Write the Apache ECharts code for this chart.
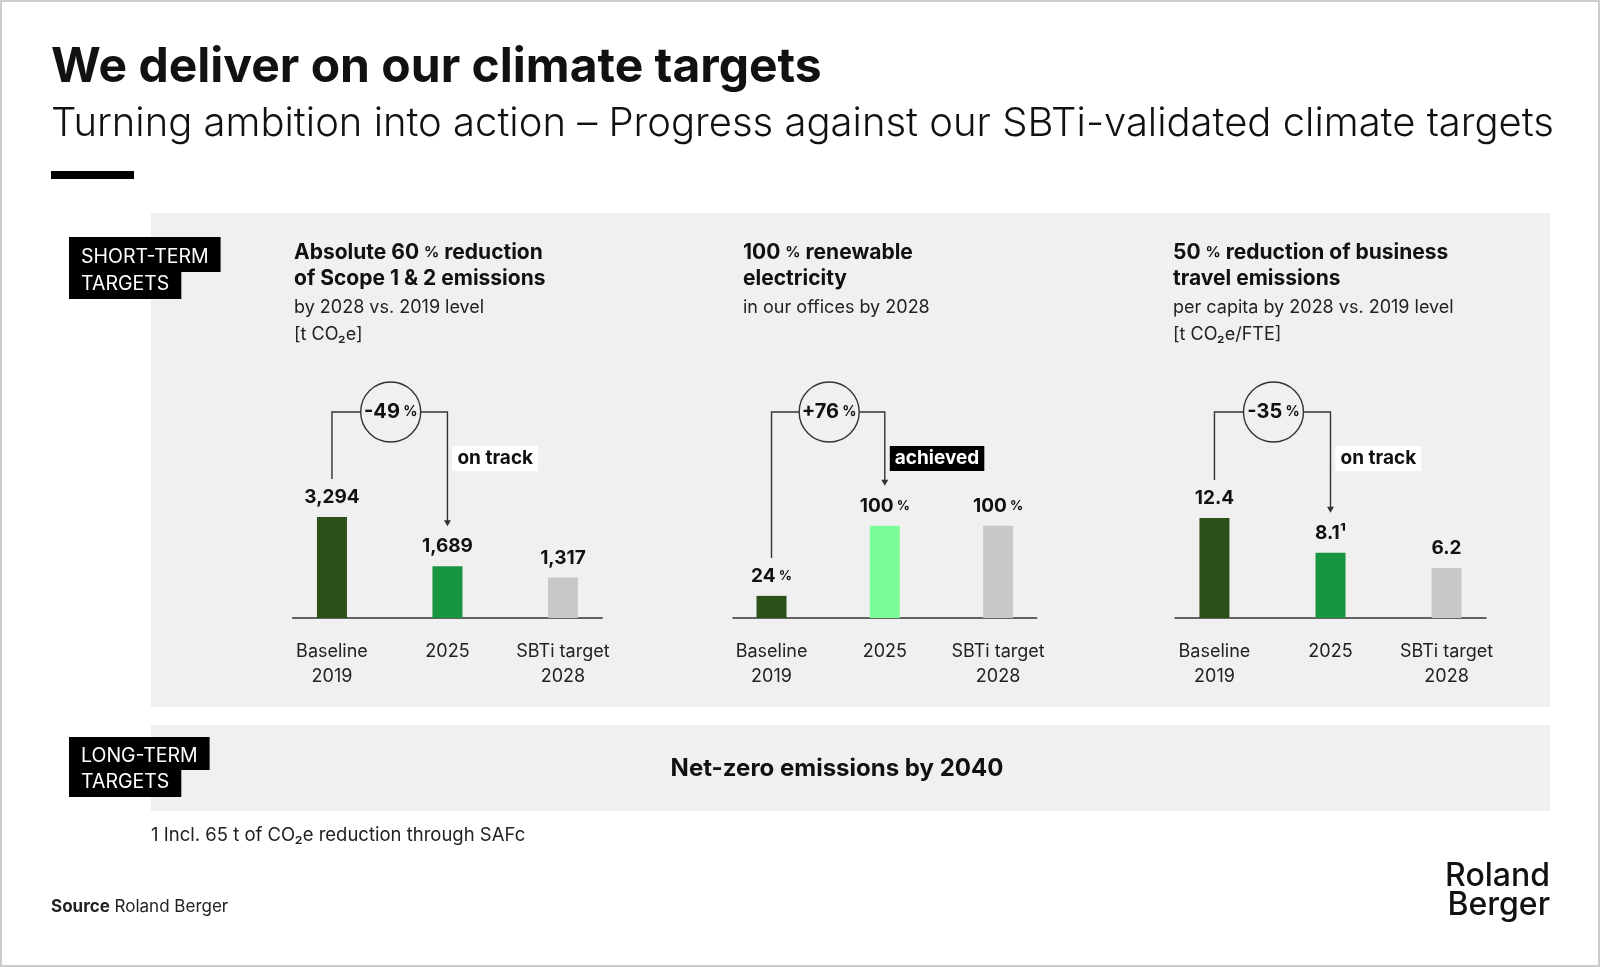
<!DOCTYPE html>
<html><head><meta charset="utf-8">
<script src="https://cdn.jsdelivr.net/npm/echarts@6/dist/echarts.min.js"></script>
<style>html,body{margin:0;padding:0;background:#fff}#c{width:1600px;height:967px}</style>
</head><body><div id="c"></div>
<script>
// ---------- data ----------
const categories = ['Baseline\n2019', '2025', 'SBTi target\n2028'];
const scopeValues = [3294, 1689, 1317];
const renewableValues = [24, 100, 100];
const travelValues = [12.4, 8.1, 6.2];
const scopeLabels = ['3,294', '1,689', '1,317'];
const renewableLabels = ['24{p| %}', '100{p| %}', '100{p| %}'];
const travelLabels = ['12.4', '8.1¹', '6.2'];
const changeLabels = ['-49', '+76', '-35'];
const statusLabels = ['on track', 'achieved', 'on track'];
const panelTitles = [
  ['Absolute 60 {p|%} reduction', 'of Scope 1 & 2 emissions'],
  ['100 {p|%} renewable', 'electricity'],
  ['50 {p|%} reduction of business', 'travel emissions']
];
const panelSubs = [
  ['by 2028 vs. 2019 level', '[t CO₂e]'],
  ['in our offices by 2028'],
  ['per capita by 2028 vs. 2019 level', '[t CO₂e/FTE]']
];
const titleText = 'We deliver on our climate targets';
const subtitleText = 'Turning ambition into action – Progress against our SBTi-validated climate targets';
const longTermText = 'Net-zero emissions by 2040';
const footnoteText = '1 Incl. 65 t of CO₂e reduction through SAFc';

// ---------- layout / style ----------
const FONT = 'Inter, "Noto Sans", sans-serif';
const INK = '#111111';
const panelValues = [scopeValues, renewableValues, travelValues];
const panelLabels = [scopeLabels, renewableLabels, travelLabels];
const layout = [
  {left: 292.7, width: 309.5, max: 6520, colors: ['#2c5118', '#17963f', '#c8c8c8'], textX: 294, statusBg: '#ffffff', statusFg: INK},
  {left: 733, width: 303.6, max: 217, colors: ['#2c5118', '#7dfd9a', '#c8c8c8'], textX: 743, statusBg: '#000000', statusFg: '#ffffff'},
  {left: 1175, width: 311, max: 24.8, colors: ['#2c5118', '#17963f', '#c8c8c8'], textX: 1173, statusBg: '#ffffff', statusFg: INK}
];
const GRID_TOP = 418, GRID_H = 200;

const chart = echarts.init(document.getElementById('c'), null, {renderer: 'canvas', width: 1600, height: 967});

const pctRich = (fs, weight) => ({p: {fontSize: fs, fontWeight: weight, fontFamily: FONT, color: INK, fill: INK}});

chart.setOption({
  animation: false,
  backgroundColor: '#ffffff',
  grid: layout.map(l => ({left: l.left, width: l.width, top: GRID_TOP, height: GRID_H})),
  xAxis: layout.map((l, i) => ({
    type: 'value', gridIndex: i, min: -0.34, max: 2.34,
    axisLine: {show: true, onZero: false, lineStyle: {color: '#333333', width: 1.5}},
    axisTick: {show: false}, splitLine: {show: false},
    axisLabel: {
      customValues: [0, 1, 2],
      formatter: v => categories[Math.round(v)],
      fontFamily: FONT, fontSize: 18, color: '#222222', lineHeight: 25, margin: 21
    }
  })),
  yAxis: layout.map((l, i) => ({type: 'value', gridIndex: i, min: 0, max: l.max, show: false})),
  series: layout.map((l, i) => ({
    type: 'bar', xAxisIndex: i, yAxisIndex: i, barWidth: 30, silent: true,
    data: panelValues[i].map((v, k) => ({
      value: [k, v],
      itemStyle: {color: l.colors[k]},
      label: {formatter: panelLabels[i][k]}
    })),
    label: {
      show: true, position: 'top', distance: 10,
      fontFamily: FONT, fontWeight: 'bold', fontSize: 19, color: INK,
      rich: {p: {fontFamily: FONT, fontWeight: 'bold', fontSize: 13, color: INK}}
    }
  }))
});

// ---------- static decoration ----------
function T(x, base, text, fs, weight, extra) {
  return {type: 'text', z: 50, silent: true, style: Object.assign({
    x: x, y: base - 0.363 * fs, text: text, fontSize: fs, fontWeight: weight,
    fontFamily: FONT, fill: INK, align: 'left', verticalAlign: 'middle'
  }, extra || {})};
}
function tag(x, y, text, pad) {
  return {type: 'text', z: 50, silent: true, style: {
    x: x, y: y, text: text, fontSize: 19.5, fontWeight: 'normal', fontFamily: FONT,
    fill: '#ffffff', backgroundColor: '#000000', padding: pad, lineHeight: 22,
    align: 'left', verticalAlign: 'top'
  }};
}

const g = [];
g.push({type: 'rect', z: -20, silent: true, shape: {x: 1, y: 1, width: 1598, height: 965}, style: {fill: '#ffffff', stroke: '#cccccc', lineWidth: 2}});
g.push({type: 'rect', z: -10, silent: true, shape: {x: 151, y: 213, width: 1399, height: 494}, style: {fill: '#f0f0f0'}});
g.push({type: 'rect', z: -10, silent: true, shape: {x: 151, y: 725, width: 1399, height: 86}, style: {fill: '#f0f0f0'}});
g.push({type: 'rect', z: 50, silent: true, shape: {x: 51, y: 171, width: 83, height: 8}, style: {fill: '#000000'}});
g.push(T(51, 85, titleText, 48, 'bold'));
g.push(T(51, 138, subtitleText, 40, 300));
g.push(tag(69, 237, 'SHORT-TERM', [9, 12, 4, 12]));
g.push(tag(69, 272, 'TARGETS', [1, 12, 4, 12]));
g.push(tag(69, 737, 'LONG-TERM', [8, 12, 3, 12]));
g.push(tag(69, 770, 'TARGETS', [1, 12, 4, 12]));
g.push(T(837, 777, longTermText, 24, 'bold', {align: 'center'}));
g.push(T(151, 842, footnoteText, 18.5, 'normal', {fill: '#222222'}));
g.push(T(51, 913, '{b|Source} Roland Berger', 17, 'normal', {fill: '#222222', rich: {b: {fontFamily: FONT, fontWeight: 'bold', fontSize: 17, fill: '#222222'}}}));
g.push(T(1550, 888, 'Roland', 32, 500, {align: 'right'}));
g.push(T(1550, 917, 'Berger', 32, 500, {align: 'right'}));

layout.forEach((l, i) => {
  panelTitles[i].forEach((t, k) => g.push(T(l.textX, 260 + 26 * k, t, 21, 'bold', {rich: pctRich(15, 'bold')})));
  panelSubs[i].forEach((t, k) => g.push(T(l.textX, 314 + 27 * k, t, 18, 'normal', {fill: '#222222'})));
});

// ---------- data-driven annotations (positions from the chart's scales) ----------
const BRACKET_Y = GRID_TOP - 6;
layout.forEach((l, i) => {
  const v = panelValues[i];
  const p0 = chart.convertToPixel({gridIndex: i}, [0, v[0]]);
  const p1 = chart.convertToPixel({gridIndex: i}, [1, v[1]]);
  const cx = (p0[0] + p1[0]) / 2 + 1, r = 30;
  const tip = p1[1] - 40;
  const ls = {stroke: '#333333', lineWidth: 1.4, fill: null};
  g.push({type: 'polyline', z: 40, silent: true, shape: {points: [[p0[0], p0[1] - 38], [p0[0], BRACKET_Y], [cx - r, BRACKET_Y]]}, style: ls});
  g.push({type: 'polyline', z: 40, silent: true, shape: {points: [[cx + r, BRACKET_Y], [p1[0], BRACKET_Y], [p1[0], tip - 5]]}, style: ls});
  g.push({type: 'polygon', z: 40, silent: true, shape: {points: [[p1[0] - 3.5, tip - 6], [p1[0] + 3.5, tip - 6], [p1[0], tip]]}, style: {fill: '#333333'}});
  g.push({type: 'circle', z: 40, silent: true, shape: {cx: cx, cy: BRACKET_Y, r: r}, style: {stroke: '#333333', lineWidth: 1.4, fill: null}});
  g.push({type: 'text', z: 45, silent: true, style: {
    x: cx, y: BRACKET_Y, text: '{b|' + changeLabels[i] + '}{p| %}', align: 'center', verticalAlign: 'middle',
    rich: {b: {fontFamily: FONT, fontWeight: 'bold', fontSize: 20, fill: INK}, p: {fontFamily: FONT, fontWeight: 'bold', fontSize: 14, fill: INK}}
  }});
  g.push({type: 'text', z: 45, silent: true, style: {
    x: p1[0] + 5, y: 446, text: statusLabels[i], fontFamily: FONT, fontWeight: 'bold', fontSize: 19, lineHeight: 19,
    fill: l.statusFg, backgroundColor: l.statusBg, padding: [3, 5, 3, 5], align: 'left', verticalAlign: 'top'
  }});
});

chart.setOption({graphic: g});
</script></body></html>
